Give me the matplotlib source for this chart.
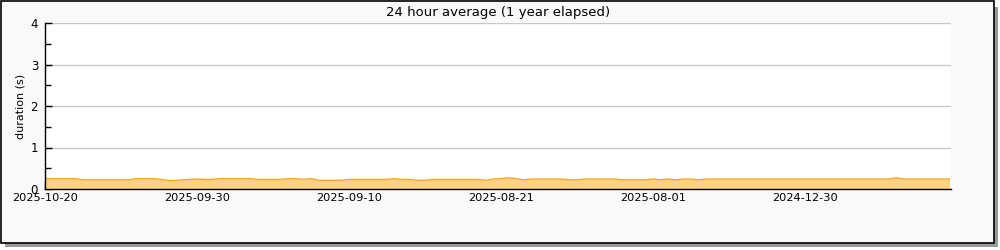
import matplotlib
matplotlib.use("Agg")
import matplotlib.pyplot as plt
from matplotlib.patches import Rectangle
import numpy as np

# 24h average duration (s), one value per point, newest first
durations = [
    0.25, 0.25, 0.25, 0.25, 0.25,
    0.22, 0.22, 0.22, 0.22, 0.22, 0.22, 0.22,
    0.25, 0.25, 0.25, 0.24,
    0.21, 0.20, 0.22, 0.23, 0.24, 0.23, 0.23,
    0.25, 0.25, 0.25, 0.25, 0.25,
    0.23, 0.23, 0.23, 0.23,
    0.25, 0.25, 0.23, 0.25,
    0.21, 0.21, 0.21, 0.21,
    0.23, 0.23, 0.23, 0.23, 0.23, 0.23,
    0.25, 0.23, 0.23, 0.21, 0.21,
    0.23, 0.23, 0.23, 0.23, 0.23, 0.23, 0.23,
    0.21, 0.24, 0.25, 0.27,
    0.25, 0.22, 0.24, 0.24, 0.24, 0.24, 0.24,
    0.22, 0.22, 0.24, 0.24, 0.24, 0.24, 0.24,
    0.22, 0.22, 0.22, 0.22, 0.24,
    0.22, 0.24, 0.22, 0.24, 0.24, 0.22,
    0.24, 0.24, 0.24, 0.24, 0.24, 0.24, 0.24, 0.24, 0.24, 0.24,
    0.24, 0.24, 0.24, 0.24, 0.24, 0.24, 0.24, 0.24, 0.24, 0.24,
    0.24, 0.24, 0.24, 0.24, 0.24,
    0.27,
    0.24, 0.24, 0.24, 0.24, 0.24, 0.24, 0.24,
]
tick_labels = ["2025-10-20", "2025-09-30", "2025-09-10", "2025-08-21",
               "2025-08-01", "2024-12-30"]
title = "24 hour average (1 year elapsed)"

fig = plt.figure(figsize=(10, 2.5), dpi=100)
fig.patch.set_facecolor("white")

# frame with drop shadow
fig.patches.append(Rectangle((0.005, 0.012), 0.993, 0.96, transform=fig.transFigure,
                             facecolor="#9a9a9a", edgecolor="none", zorder=-3))
fig.patches.append(Rectangle((0.001, 0.03), 0.993, 0.966, transform=fig.transFigure,
                             facecolor="#f9f9f9", edgecolor="black", linewidth=1.2, zorder=-2))

ax = fig.add_axes([0.045, 0.244, 0.906, 0.664])
ax.set_facecolor("white")

x = np.arange(len(durations))
ax.fill_between(x, durations, 0, color="#ffd27f", linewidth=0)
ax.plot(x, durations, color="#f5a623", linewidth=1)

ax.set_xlim(0, len(durations) - 0.8)
ax.set_ylim(0, 4)

ax.set_yticks([0, 1, 2, 3, 4])
ax.set_yticks(np.arange(0.5, 4, 1.0), minor=True)
ax.set_xticks(np.arange(0, 120, 10))
ax.set_xticklabels([lab for pair in zip(tick_labels, [""] * 6) for lab in pair])

ax.grid(axis="y", color="#c8c8c8", linewidth=1)
ax.set_axisbelow(True)
ax.tick_params(axis="y", which="major", direction="in", length=5, width=1, labelsize=8.5, pad=5)
ax.tick_params(axis="y", which="minor", direction="in", length=4, width=1)
ax.tick_params(axis="x", direction="in", length=6, width=1, labelsize=8.2, pad=3)

for side in ("top", "right"):
    ax.spines[side].set_visible(False)
for side in ("left", "bottom"):
    ax.spines[side].set_linewidth(1)

ax.set_ylabel("duration (s)", fontsize=8)
ax.yaxis.set_label_coords(-0.021, 0.5)
ax.set_title(title, fontsize=9.5, pad=5)

fig.savefig("out.png", dpi=100)
